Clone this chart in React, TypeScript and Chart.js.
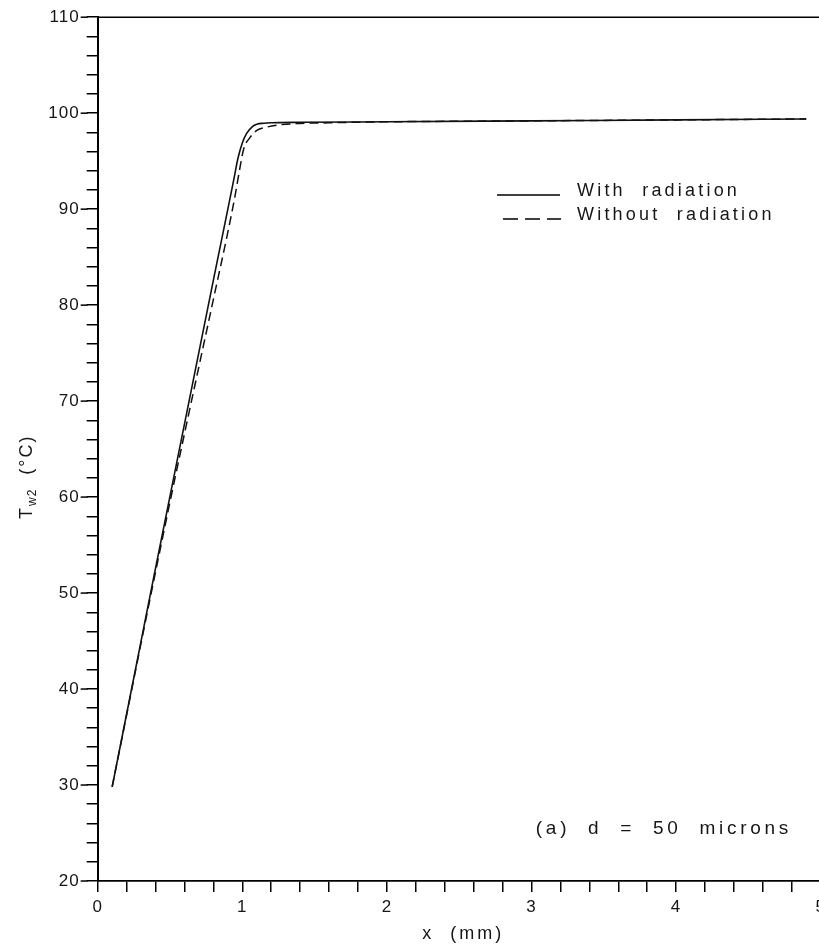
import React, { useEffect, useRef } from 'react';
import { Chart, registerables } from 'chart.js';

Chart.register(...registerables);

// ---- data ----
const xWith = [0.1, 0.2, 0.3, 0.4, 0.5, 0.6, 0.7, 0.8, 0.9, 0.94, 0.97, 1.0, 1.03, 1.07, 1.1, 1.15, 1.2, 1.4, 2.0, 3.0, 4.0, 4.9];
const tWith = [29.8, 37.4, 45.0, 52.6, 60.1, 67.6, 75.1, 82.6, 90.0, 93.0, 95.3, 96.9, 97.9, 98.6, 98.85, 98.95, 99.0, 99.05, 99.1, 99.2, 99.3, 99.4];

const xWithout = [0.1, 0.2, 0.3, 0.4, 0.5, 0.6, 0.7, 0.8, 0.9, 0.95, 0.98, 1.01, 1.05, 1.1, 1.17, 1.24, 1.35, 1.6, 2.0, 3.0, 4.0, 4.9];
const tWithout = [29.8, 37.3, 44.8, 52.2, 59.5, 66.6, 73.6, 80.6, 87.6, 91.4, 94.0, 96.3, 97.4, 98.2, 98.55, 98.75, 98.9, 99.0, 99.1, 99.2, 99.3, 99.4];

const seriesLabels = ['With  radiation', 'Without  radiation'];
const xRange = [0, 5];
const yRange = [20, 110];
const xMinorStep = 0.2;
const yMinorStep = 2;
const yMajorStep = 10;
const xTitle = 'x  (mm)';
const yTitleMain = 'T';
const yTitleSub = 'w2';
const yTitleRest = '  (°C)';
const annotation = '(a)  d  =  50  microns';

const FONT = '"Liberation Sans", Arial, sans-serif';
const INK = '#161616';

const CANVAS_W = 840;
const CANVAS_H = 948;
const AREA_LEFT = 97.7;
const AREA_TOP = 15;
const AREA_RIGHT = 820.7;
const AREA_BOTTOM = 881;

function drawText(ctx: CanvasRenderingContext2D, text: string, x: number, y: number, size: number, spacing: number, align: CanvasTextAlign = 'left') {
  ctx.save();
  ctx.font = `${size}px ${FONT}`;
  (ctx as any).letterSpacing = `${spacing}px`;
  ctx.fillStyle = INK;
  ctx.textAlign = align;
  ctx.textBaseline = 'alphabetic';
  ctx.fillText(text, x, y);
  ctx.restore();
}

const decorPlugin = {
  id: 'decor',
  beforeDraw(chart: any) {
    (chart.ctx as any).letterSpacing = '1px';
  },
  afterDraw(chart: any) {
    const ctx: CanvasRenderingContext2D = chart.ctx;
    const area = chart.chartArea;
    const ys = chart.scales.y;
    ctx.save();
    (ctx as any).letterSpacing = '0px';
    ctx.strokeStyle = '#000';
    // top frame line
    ctx.lineWidth = 1.5;
    ctx.beginPath();
    ctx.moveTo(area.left, area.top);
    ctx.lineTo(area.right + 20, area.top);
    ctx.stroke();
    // longer major ticks on y
    for (let v = yRange[0]; v <= yRange[1]; v += yMajorStep) {
      const py = ys.getPixelForValue(v);
      ctx.beginPath();
      ctx.moveTo(area.left - 17, py);
      ctx.lineTo(area.left - 10, py);
      ctx.stroke();
    }
    // legend
    ctx.lineWidth = 1.4;
    ctx.beginPath();
    ctx.moveTo(497, 195);
    ctx.lineTo(560, 195);
    ctx.stroke();
    ctx.setLineDash([15, 7]);
    ctx.beginPath();
    ctx.moveTo(503, 219);
    ctx.lineTo(561, 219);
    ctx.stroke();
    ctx.setLineDash([]);
    ctx.restore();

    drawText(ctx, seriesLabels[0], 577, 196, 18, 3.2);
    drawText(ctx, seriesLabels[1], 577, 220, 18, 3.2);

    // annotation
    drawText(ctx, annotation, 792, 834, 19, 3.7, 'right');

    // x title
    drawText(ctx, xTitle, (area.left + area.right) / 2 + 4, 939, 18, 3, 'center');

    // y title (rotated)
    ctx.save();
    ctx.translate(32, 519);
    ctx.rotate(-Math.PI / 2);
    ctx.fillStyle = INK;
    ctx.textBaseline = 'alphabetic';
    ctx.textAlign = 'left';
    ctx.font = `18px ${FONT}`;
    (ctx as any).letterSpacing = '1px';
    ctx.fillText(yTitleMain, 0, 0);
    let off = ctx.measureText(yTitleMain).width;
    ctx.font = `12px ${FONT}`;
    ctx.fillText(yTitleSub, off + 1, 4);
    off += ctx.measureText(yTitleSub).width + 1;
    ctx.font = `18px ${FONT}`;
    (ctx as any).letterSpacing = '2px';
    ctx.fillText(yTitleRest, off, 0);
    ctx.restore();
  },
};

export default function App() {
  const ref = useRef<HTMLCanvasElement | null>(null);

  useEffect(() => {
    document.body.style.overflow = 'hidden';
    const canvas = ref.current;
    if (!canvas) return;
    const withPts = xWith.map((x, i) => ({ x, y: tWith[i] }));
    const withoutPts = xWithout.map((x, i) => ({ x, y: tWithout[i] }));

    const chart = new Chart(canvas, {
      type: 'line',
      data: {
        datasets: [
          {
            label: seriesLabels[0],
            data: withPts,
            borderColor: '#111',
            borderWidth: 1.6,
            pointRadius: 0,
            cubicInterpolationMode: 'monotone',
            fill: false,
          },
          {
            label: seriesLabels[1],
            data: withoutPts,
            borderColor: '#111',
            borderWidth: 1.5,
            borderDash: [9, 5],
            pointRadius: 0,
            cubicInterpolationMode: 'monotone',
            fill: false,
          },
        ],
      },
      options: {
        responsive: false,
        animation: false,
        devicePixelRatio: 1,
        layout: {
          padding: { top: AREA_TOP, right: CANVAS_W - AREA_RIGHT, bottom: 0, left: 0 },
        },
        plugins: {
          legend: { display: false },
          tooltip: { enabled: false },
          title: { display: false },
        },
        scales: {
          x: {
            type: 'linear',
            min: xRange[0],
            max: xRange[1],
            ticks: {
              stepSize: xMinorStep,
              autoSkip: false,
              maxTicksLimit: 100,
              maxRotation: 0,
              padding: 5,
              color: INK,
              font: { family: FONT, size: 17 },
              callback: (v: any) => {
                const n = Number(v);
                return Math.abs(n - Math.round(n)) < 1e-6 ? String(Math.round(n)) : '';
              },
            },
            grid: {
              drawOnChartArea: false,
              drawTicks: true,
              tickLength: 11,
              color: '#000',
              lineWidth: 1.5,
            },
            border: { display: true, color: '#000', width: 1.8 },
            afterFit: (scale: any) => {
              scale.height = CANVAS_H - AREA_BOTTOM;
            },
          },
          y: {
            type: 'linear',
            min: yRange[0],
            max: yRange[1],
            ticks: {
              stepSize: yMinorStep,
              autoSkip: false,
              maxTicksLimit: 100,
              padding: 7,
              color: INK,
              font: { family: FONT, size: 17 },
              callback: (v: any) => {
                const n = Math.round(Number(v));
                return n % yMajorStep === 0 ? String(n) : '';
              },
            },
            grid: {
              drawOnChartArea: false,
              drawTicks: true,
              tickLength: 11,
              color: '#000',
              lineWidth: 1.5,
            },
            border: { display: true, color: '#000', width: 2 },
            afterFit: (scale: any) => {
              scale.width = AREA_LEFT;
            },
          },
        },
      } as any,
      plugins: [decorPlugin],
    });
    return () => chart.destroy();
  }, []);

  return (
    <div style={{ position: 'fixed', left: 0, top: 0, width: CANVAS_W, height: CANVAS_H, background: '#fff' }}>
      <canvas ref={ref} width={CANVAS_W} height={CANVAS_H} style={{ display: 'block' }} />
    </div>
  );
}
